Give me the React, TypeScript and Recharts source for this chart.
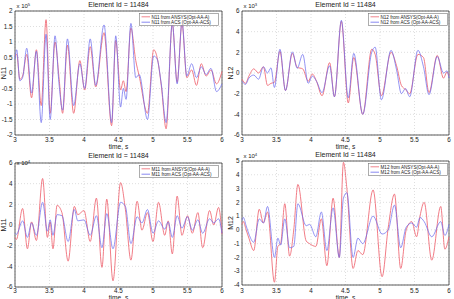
import { LineChart, Line, XAxis, YAxis, CartesianGrid, ReferenceArea, Legend, Label } from "recharts";

const xTicks = [3, 3.5, 4, 4.5, 5, 5.5, 6];

// N11, x 10^5
const n11Time = [3.0, 3.025, 3.07, 3.11, 3.17, 3.24, 3.31, 3.38, 3.45, 3.51, 3.58, 3.64, 3.69, 3.76, 3.85, 3.94, 4.01, 4.09, 4.17, 4.29, 4.4, 4.46, 4.53, 4.57, 4.61, 4.68, 4.75, 4.8, 4.92, 5.01, 5.06, 5.12, 5.19, 5.28, 5.35, 5.42, 5.49, 5.56, 5.63, 5.7, 5.77, 5.84, 5.92, 6.0];
const n11Ansys = [0.55, 0.6, -0.2, -0.1, 0.6, -0.8, 0.75, -1.05, 1.72, -1.3, 1.0, -0.2, -1.3, 0.9, -1.3, 0.4, -0.55, 0.85, -0.45, 1.3, -1.7, 1.05, -0.55, -0.25, -0.6, 1.45, 0.4, -0.1, -1.3, 0.75, 0.5, -0.4, -1.8, 1.6, -0.3, 1.6, -0.15, 0.1, -0.4, 0.3, -0.1, 0.1, -0.35, 0.05];
const n11Acs = [0.45, 0.75, -0.25, -0.15, 0.8, -0.65, 0.7, -1.6, 1.25, -1.5, 1.2, -0.4, -1.2, 1.1, -1.05, 0.3, -0.5, 1.1, -0.4, 1.55, -1.6, 1.2, -1.1, -0.5, -0.85, 1.6, -0.15, -0.05, -1.5, 0.55, 0.45, -0.35, -1.6, 1.6, -0.35, 1.65, -0.1, 0.3, -0.15, 0.2, -0.05, 0.15, -0.6, -0.35];

// N12, x 10^3
const n12Time = [3.0, 3.05, 3.1, 3.17, 3.24, 3.31, 3.37, 3.42, 3.47, 3.55, 3.63, 3.73, 3.8, 3.88, 3.96, 4.02, 4.08, 4.16, 4.27, 4.34, 4.44, 4.54, 4.62, 4.75, 4.88, 4.93, 5.02, 5.16, 5.24, 5.31, 5.37, 5.43, 5.55, 5.63, 5.71, 5.83, 5.92, 5.97, 6.0];
const n12Ansys = [-0.6, -1.0, -0.3, 0.4, 0.0, 0.6, -1.2, -1.0, -0.9, 2.1, -1.7, 1.9, 0.55, 0.4, -0.8, -0.1, -0.8, -2.2, 1.0, -2.3, 5.0, -2.9, 1.5, -4.0, 2.3, 1.8, -2.2, 2.0, 0.7, -1.2, -1.6, -2.0, 1.8, 1.5, -1.9, 1.7, -0.5, 0.1, -0.3];
const n12Acs = [-0.8, -1.1, -0.5, -0.2, -0.6, 0.6, 0.0, 0.5, -1.4, 2.3, -1.7, 2.05, 0.45, 1.8, -1.0, -0.3, -0.8, -1.9, 0.7, -2.3, 5.1, -2.4, 1.9, -4.0, 2.0, 2.5, -2.6, 2.2, 0.3, -2.0, -1.5, -2.3, 2.2, 0.6, -2.1, 1.6, 0.0, 0.2, -0.5];

// M11, x 10^4
const m11Time = [3.0, 3.02, 3.11, 3.18, 3.24, 3.31, 3.4, 3.47, 3.51, 3.55, 3.61, 3.68, 3.77, 3.86, 3.91, 4.0, 4.09, 4.18, 4.26, 4.33, 4.42, 4.53, 4.6, 4.68, 4.77, 4.84, 4.92, 5.0, 5.08, 5.17, 5.22, 5.28, 5.35, 5.42, 5.5, 5.57, 5.65, 5.72, 5.82, 5.88, 5.95, 6.0];
const m11Ansys = [-1.2, -1.4, 1.6, -2.3, 0.3, -1.5, 4.5, -1.2, 0.3, -2.3, 1.9, 1.2, -3.5, 1.8, 1.0, 1.4, -1.6, 2.6, -4.1, 2.5, -5.4, 4.1, 1.5, -3.4, 2.3, -0.5, 1.2, -1.6, 2.2, -1.0, 0.4, -2.8, 2.8, -1.0, 0.9, -0.8, 1.2, -2.2, 1.4, 0.0, 1.7, -0.9];
const m11Acs = [-0.8, -0.9, 0.4, -1.2, 0.2, -1.0, 2.2, -0.6, 0.5, -1.0, 1.0, 0.9, -1.6, 1.5, 0.4, 0.5, -1.0, 0.9, -2.2, 1.1, -2.3, 2.2, 1.8, -1.8, 0.8, 0.2, 1.5, -0.8, 0.4, -0.4, 0.3, -1.2, 0.9, -0.3, 0.8, -0.5, 0.5, -0.8, 0.6, 0.2, 0.6, -0.8];

// M12, x 10^4
const m12Time = [3.0, 3.02, 3.06, 3.1, 3.17, 3.25, 3.31, 3.37, 3.47, 3.52, 3.56, 3.62, 3.69, 3.75, 3.81, 3.93, 3.98, 4.07, 4.15, 4.23, 4.32, 4.41, 4.47, 4.52, 4.61, 4.68, 4.75, 4.9, 5.03, 5.12, 5.21, 5.3, 5.38, 5.46, 5.53, 5.58, 5.64, 5.75, 5.88, 5.94, 6.0];
const m12Ansys = [0.4, 0.6, 0.0, -0.6, -1.5, 1.5, 0.5, 1.3, -3.8, -1.2, -1.0, 1.9, -1.9, 0.0, 3.3, -0.8, -1.0, -1.2, 0.8, -2.6, 2.3, -2.0, 4.9, 3.0, -2.8, -1.5, -1.8, 2.9, -3.4, 0.2, 2.6, -2.8, 0.0, 0.6, -0.5, 1.0, 2.0, -2.2, 1.7, -1.4, -0.5];
const m12Acs = [0.7, 0.9, 0.3, -0.3, -0.9, 0.8, 0.5, 1.7, -2.0, -0.6, -1.1, 0.8, -1.3, -1.2, 1.9, 0.3, 0.4, -0.5, 1.3, -1.5, 1.6, -2.0, 2.3, 2.7, -2.0, -0.6, -1.0, 1.0, -0.3, 0.0, 1.8, -1.3, 0.2, 0.5, 0.2, 0.9, 0.6, -0.5, 0.6, -0.4, 0.4];

const RED = "#ee6470";
const BLUE = "#6a6aee";
const FONT = "'Liberation Sans', Arial, sans-serif";
const W = 227;

interface PanelProps {
  left: number;
  top: number;
  height: number;
  plotTop: number;
  plotBottom: number;
  name: string;
  exp: string;
  expY: number;
  titleY: number;
  xTickMargin: number;
  xLabelY: number;
  yDomain: [number, number];
  yTicks: number[];
  time: number[];
  ansys: number[];
  acs: number[];
  legendX: number;
  legendY: number;
}

function Panel(p: PanelProps) {
  const data = p.time.map((t, i) => ({ t, ansys: p.ansys[i], acs: p.acs[i] }));
  const plotLeft = 15;
  const plotRight = W - 5;
  const midX = (plotLeft + plotRight) / 2;
  const midY = (p.plotTop + p.plotBottom) / 2;

  return (
    <div style={{ position: "absolute", left: p.left, top: p.top, width: W, height: p.height }}>
      <LineChart
        width={W}
        height={p.height}
        data={data}
        margin={{ top: p.plotTop, right: W - plotRight, bottom: p.height - p.plotBottom - 10, left: 0 }}
        style={{ fontFamily: FONT }}
      >
        <CartesianGrid stroke="#c8c8c8" strokeDasharray="1 2" strokeWidth={0.6} />
        <XAxis
          dataKey="t"
          type="number"
          domain={[3, 6]}
          ticks={xTicks}
          interval={0}
          height={10}
          tickSize={0}
          tickMargin={p.xTickMargin}
          axisLine={false}
          tick={{ fontSize: 6.3, fill: "#222" }}
        >
          <Label
            content={() => (
              <text x={midX} y={p.xLabelY} textAnchor="middle" fontSize={6.6} fill="#222">
                time, s
              </text>
            )}
          />
        </XAxis>
        <YAxis
          type="number"
          domain={p.yDomain}
          ticks={p.yTicks}
          interval={0}
          width={plotLeft}
          tickSize={0}
          tickMargin={2.5}
          axisLine={false}
          tick={{ fontSize: 6.3, fill: "#222" }}
        >
          <Label
            content={() => (
              <text x={6} y={midY} transform={`rotate(-90 6 ${midY})`} textAnchor="middle" fontSize={7} fill="#222">
                {p.name}
              </text>
            )}
          />
        </YAxis>
        <ReferenceArea
          x1={3}
          x2={6}
          y1={p.yDomain[0]}
          y2={p.yDomain[1]}
          fill="none"
          stroke="#333"
          strokeWidth={0.8}
          label={
            <Label
              content={() => (
                <g>
                  <text x={midX} y={p.titleY} textAnchor="middle" fontSize={7} fill="#222">
                    Element Id = 11484
                  </text>
                  <text x={plotLeft + 1.5} y={p.expY} fontSize={6} fill="#222">
                    x 10
                    <tspan fontSize={4.2} dy={-2.5}>{p.exp}</tspan>
                  </text>
                </g>
              )}
            />
          }
        />
        <Line
          type="monotone"
          dataKey="ansys"
          name={`${p.name} from ANSYS(Opt-AA-A)`}
          stroke={RED}
          strokeWidth={0.85}
          dot={false}
          isAnimationActive={false}
        />
        <Line
          type="monotone"
          dataKey="acs"
          name={`${p.name} from ACS (Opt-AA-ACS)`}
          stroke={BLUE}
          strokeOpacity={0.85}
          strokeWidth={0.85}
          dot={false}
          isAnimationActive={false}
        />
        <Legend
          layout="vertical"
          align="center"
          verticalAlign="middle"
          wrapperStyle={{ left: p.legendX, top: p.legendY, width: 80, height: 13, bottom: "auto", right: "auto" }}
          content={() => (
            <svg width={80} height={13} style={{ display: "block", fontFamily: FONT }}>
              <rect x={0.5} y={0.5} width={79} height={12} fill="#fff" stroke="#777" strokeWidth={0.6} />
              <line x1={2.5} x2={11} y1={3.8} y2={3.8} stroke={RED} strokeWidth={0.8} />
              <text x={12.5} y={5.5} fontSize={4.6} fill="#222">
                {p.name} from ANSYS(Opt-AA-A)
              </text>
              <line x1={2.5} x2={11} y1={9.2} y2={9.2} stroke={BLUE} strokeWidth={0.8} />
              <text x={12.5} y={10.9} fontSize={4.6} fill="#222">
                {p.name} from ACS (Opt-AA-ACS)
              </text>
            </svg>
          )}
        />
      </LineChart>
    </div>
  );
}

export default function App() {
  return (
    <div style={{ position: "absolute", left: 0, top: 0, width: 454, height: 299, background: "#fff", fontFamily: FONT }}>
      <Panel
        left={0}
        top={0}
        height={150}
        plotTop={11}
        plotBottom={135}
        name="N11"
        exp="5"
        expY={8}
        titleY={6.5}
        xTickMargin={2.5}
        xLabelY={148.5}
        yDomain={[-2, 2]}
        yTicks={[-2, -1.5, -1, -0.5, 0, 0.5, 1, 1.5, 2]}
        time={n11Time}
        ansys={n11Ansys}
        acs={n11Acs}
        legendX={139}
        legendY={12.5}
      />
      <Panel
        left={227}
        top={0}
        height={150}
        plotTop={11}
        plotBottom={135}
        name="N12"
        exp="3"
        expY={8}
        titleY={6.5}
        xTickMargin={2.5}
        xLabelY={148.5}
        yDomain={[-6, 6]}
        yTicks={[-6, -4, -2, 0, 2, 4, 6]}
        time={n12Time}
        ansys={n12Ansys}
        acs={n12Acs}
        legendX={141}
        legendY={12.5}
      />
      <Panel
        left={0}
        top={150}
        height={149}
        plotTop={13}
        plotBottom={137}
        name="M11"
        exp="4"
        expY={15}
        titleY={7.5}
        xTickMargin={1.2}
        xLabelY={149.5}
        yDomain={[-6, 6]}
        yTicks={[-6, -4, -2, 0, 2, 4, 6]}
        time={m11Time}
        ansys={m11Ansys}
        acs={m11Acs}
        legendX={139}
        legendY={14.5}
      />
      <Panel
        left={227}
        top={150}
        height={149}
        plotTop={11}
        plotBottom={135}
        name="M12"
        exp="4"
        expY={8}
        titleY={6.5}
        xTickMargin={3.2}
        xLabelY={149.5}
        yDomain={[-4, 5]}
        yTicks={[-4, -3, -2, -1, 0, 1, 2, 3, 4, 5]}
        time={m12Time}
        ansys={m12Ansys}
        acs={m12Acs}
        legendX={141}
        legendY={12.5}
      />
    </div>
  );
}
